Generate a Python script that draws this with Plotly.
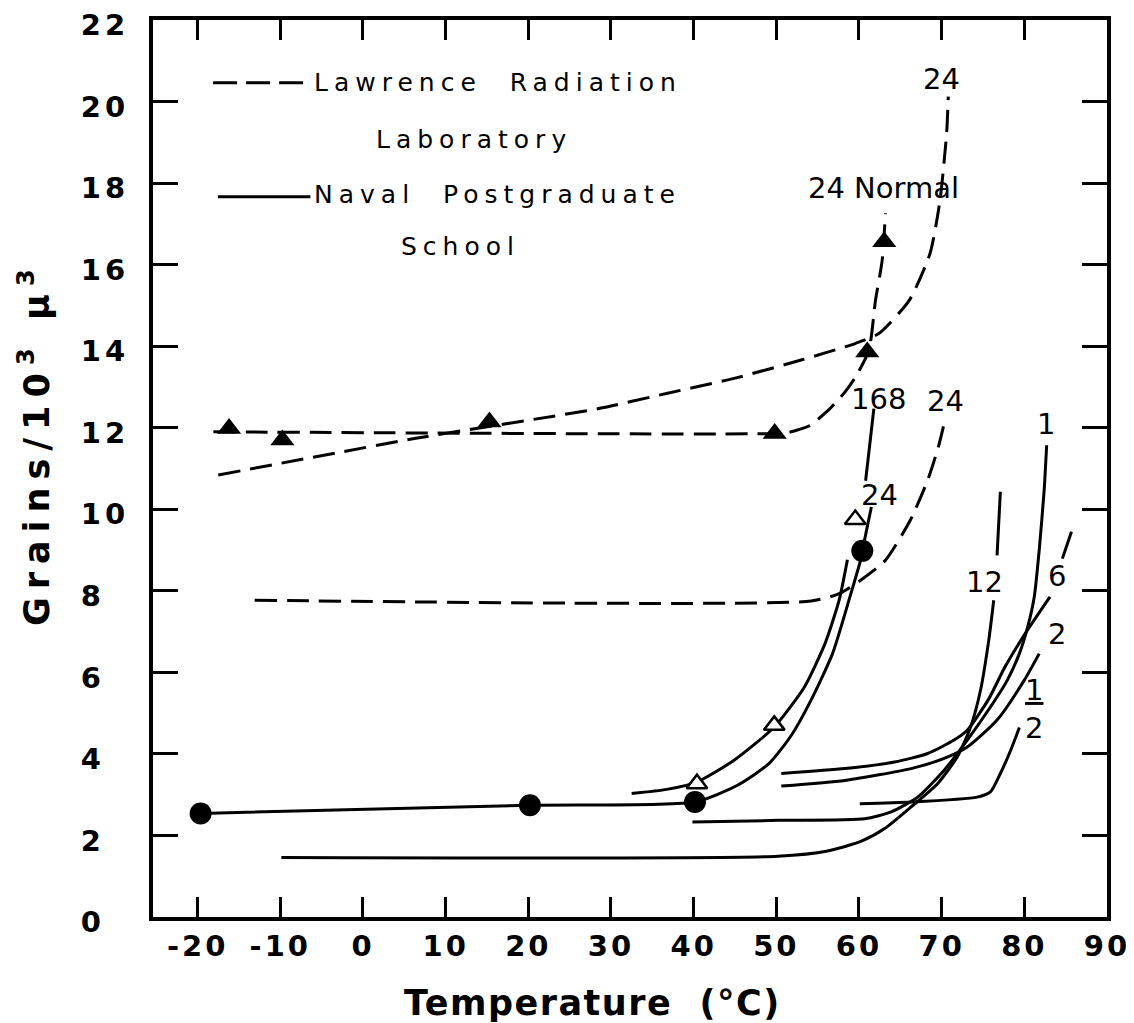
import plotly.graph_objects as go

# ---------------- data ----------------
# Lawrence Radiation Laboratory (dashed)
lrl_normal_x = [-18.1, 49.8, 51.8, 54.0, 56.3, 58.2, 59.6, 61.2, 62.0, 62.8, 63.2]
lrl_normal_y = [11.9, 11.86, 11.9, 12.05, 12.43, 12.85, 13.25, 13.9, 15.13, 16.1, 17.26]

lrl_24a_x = [-17.5, 6.4, 28.5, 36.7, 44.9, 53.0, 59.6, 62.4, 66.1, 68.6, 69.8, 70.6, 70.8]
lrl_24a_y = [10.84, 11.74, 12.47, 12.84, 13.21, 13.66, 14.07, 14.31, 15.13, 16.28, 17.58, 19.22, 20.12]

lrl_24b_x = [-13.1, 54.2, 57.6, 60.2, 63.2, 66.2, 68.3, 69.6, 70.4]
lrl_24b_y = [7.77, 7.75, 7.93, 8.26, 8.75, 9.73, 10.71, 11.53, 12.19]

lrl_pts_x = [-16.2, -9.75, 15.3, 49.8, 61.0, 63.05]
lrl_pts_y = [11.98, 11.70, 12.14, 11.86, 13.86, 16.56]

# Naval Postgraduate School (solid)
nps_24_x = [-19.64, 20.2, 40.16, 45.3, 49.1, 51.7, 54.2, 56.8, 58.9, 60.2, 60.4, 61.5]
nps_24_y = [2.54, 2.74, 2.82, 3.23, 3.76, 4.42, 5.32, 6.46, 7.85, 8.76, 8.98, 10.06]
nps_24_pts_x = [-19.64, 20.2, 40.16, 60.4]
nps_24_pts_y = [2.54, 2.74, 2.82, 8.98]

nps_168_x = [32.5, 36.75, 40.4, 44.85, 49.75, 53.4, 55.9, 57.6, 58.6, None, 60.8, 61.8]
nps_168_y = [3.03, 3.13, 3.31, 3.84, 4.66, 5.64, 6.71, 7.77, 8.76, None, 10.7, 12.47]
nps_168_pts_x = [40.4, 49.75, 59.55]
nps_168_pts_y = [3.27, 4.70, 9.75]

nps_12_x = [-9.87, 50.2, 56.2, 60.3, 63.1, 66.3, 69.5, 71.9, 73.5, 74.7, 75.7, 76.3, None, 76.7, 77.1]
nps_12_y = [1.46, 1.49, 1.62, 1.86, 2.17, 2.70, 3.27, 3.93, 4.66, 5.56, 6.79, 7.77, None, 8.87, 10.43]

nps_1_x = [39.85, 50.2, 60.7, 63.9, 67.1, 70.3, 73.1, 75.9, 77.95, 79.4, 80.4, 81.2, 81.8, 82.4, 82.7]
nps_1_y = [2.33, 2.37, 2.41, 2.58, 2.94, 3.60, 4.34, 5.15, 5.81, 6.46, 7.11, 7.85, 9.0, 10.47, 11.57]

nps_6_x = [50.6, 58.3, 64.3, 68.3, 71.5, 73.1, 75.7, 77.65, 80.1, 83.1, None, 84.6, 85.7]
nps_6_y = [3.52, 3.64, 3.80, 4.01, 4.34, 4.58, 5.35, 6.13, 6.95, 7.85, None, 8.79, 9.45]

nps_2_x = [50.6, 58.3, 66.3, 70.3, 73.1, 76.7, 80.0, 81.8]
nps_2_y = [3.21, 3.35, 3.64, 3.89, 4.17, 4.83, 5.81, 6.46]

nps_half_x = [60.1, 66.3, 74.3, 75.9, 77.1, 78.35, 79.4]
nps_half_y = [2.78, 2.82, 2.94, 3.07, 3.52, 4.09, 4.65]

# curve labels
label_text = ["24", "24 Normal", "168", "24", "24", "12", "6", "2", "1"]
label_x = [70.0, 63.0, 62.4, 70.5, 62.5, 75.2, 84.0, 84.0, 82.6]
label_y = [20.55, 17.87, 12.70, 12.65, 10.35, 8.22, 8.36, 6.94, 12.09]

x_ticks = [-20, -10, 0, 10, 20, 30, 40, 50, 60, 70, 80, 90]
y_ticks = [0, 2, 4, 6, 8, 10, 12, 14, 16, 18, 20, 22]

# ---------------- figure ----------------
BLACK = "#000000"
DASH = "22px,10px"
LW = 3

fig = go.Figure()

def line(x, y, dash=None):
    fig.add_trace(go.Scatter(
        x=x, y=y, mode="lines",
        line=dict(color=BLACK, width=LW, dash=dash, shape="spline", smoothing=0.6),
        connectgaps=False, showlegend=False, hoverinfo="skip"))

for xs, ys in [(lrl_normal_x, lrl_normal_y), (lrl_24a_x, lrl_24a_y), (lrl_24b_x, lrl_24b_y)]:
    line(xs, ys, DASH)

for xs, ys in [(nps_24_x, nps_24_y), (nps_168_x, nps_168_y), (nps_12_x, nps_12_y),
               (nps_1_x, nps_1_y), (nps_6_x, nps_6_y), (nps_2_x, nps_2_y),
               (nps_half_x, nps_half_y)]:
    line(xs, ys)

fig.add_trace(go.Scatter(x=lrl_pts_x, y=lrl_pts_y, mode="markers",
                         marker=dict(symbol="triangle-up", size=21, color=BLACK),
                         showlegend=False, hoverinfo="skip"))
fig.add_trace(go.Scatter(x=nps_24_pts_x, y=nps_24_pts_y, mode="markers",
                         marker=dict(symbol="circle", size=22, color=BLACK),
                         showlegend=False, hoverinfo="skip"))
fig.add_trace(go.Scatter(x=nps_168_pts_x, y=nps_168_pts_y, mode="markers",
                         marker=dict(symbol="triangle-up", size=18, color="white",
                                     line=dict(color=BLACK, width=2.5)),
                         showlegend=False, hoverinfo="skip"))

LABEL_FONT = dict(family="DejaVu Sans", size=29, color=BLACK)
for t, x, y in zip(label_text, label_x, label_y):
    fig.add_annotation(x=x, y=y, xref="x", yref="y", text=t, showarrow=False,
                       font=LABEL_FONT, xanchor="center", yanchor="middle")

# fraction label 1/2
fig.add_annotation(x=81.2, y=5.09, xref="x", yref="y",
                   text="<span style='text-decoration:underline'>1</span><br>2",
                   showarrow=False, font=dict(family="DejaVu Sans", size=29, color=BLACK),
                   xanchor="center", yanchor="middle")

# legend (drawn as text block)
LEG_FONT = dict(family="DejaVu Sans", size=25, color=BLACK)
def sp(t, ls=6):
    return f"<span style='letter-spacing:{ls}px'>{t}</span>"

fig.add_shape(type="line", xref="paper", yref="paper", x0=0.063, x1=0.161, y0=0.930, y1=0.930,
              line=dict(color=BLACK, width=LW, dash="24px,9px"))
fig.add_annotation(xref="paper", yref="paper", x=0.167, y=0.930, text=sp("Lawrence&nbsp; Radiation"),
                   showarrow=False, font=LEG_FONT, xanchor="left", yanchor="middle")
fig.add_annotation(xref="paper", yref="paper", x=0.337, y=0.867, text=sp("Laboratory"),
                   showarrow=False, font=LEG_FONT, xanchor="center", yanchor="middle")
fig.add_shape(type="line", xref="paper", yref="paper", x0=0.068, x1=0.165, y0=0.803, y1=0.803,
              line=dict(color=BLACK, width=LW))
fig.add_annotation(xref="paper", yref="paper", x=0.167, y=0.805, text=sp("Naval&nbsp; Postgraduate"),
                   showarrow=False, font=LEG_FONT, xanchor="left", yanchor="middle")
fig.add_annotation(xref="paper", yref="paper", x=0.322, y=0.748, text=sp("School"),
                   showarrow=False, font=LEG_FONT, xanchor="center", yanchor="middle")

# axis titles
TITLE_FONT = dict(family="DejaVu Sans", size=35, color=BLACK, weight="bold")
fig.add_annotation(xref="paper", yref="paper", x=0.461, y=-0.096,
                   text=sp("Temperature&nbsp; (°C)", 1.5), showarrow=False, font=TITLE_FONT,
                   xanchor="center", yanchor="middle")
fig.add_annotation(xref="paper", yref="paper", x=-0.124, y=0.528,
                   text=sp("Grains/10<sup>3</sup> μ<sup>3</sup>", 8), showarrow=False,
                   font=TITLE_FONT, textangle=-90, xanchor="center", yanchor="middle")

TICK_FONT = dict(family="DejaVu Sans", size=29, color=BLACK, weight="bold")
x_ticktext = [sp(str(v), 3) for v in x_ticks]
y_ticktext = [sp(str(v) if v >= 10 else str(v) + "\u2007", 4) for v in y_ticks]

fig.update_xaxes(range=[-25.4, 90], tickmode="array", tickvals=x_ticks, ticktext=x_ticktext,
                 ticks="inside", ticklen=20, tickwidth=3, tickcolor=BLACK,
                 showline=True, linewidth=4, linecolor=BLACK, mirror="ticks",
                 showgrid=False, zeroline=False, tickfont=TICK_FONT, automargin=False,
                 ticklabeloverflow="allow")
fig.update_yaxes(range=[0, 22], tickmode="array", tickvals=y_ticks, ticktext=y_ticktext,
                 ticks="inside", ticklen=25, tickwidth=3, tickcolor=BLACK,
                 showline=True, linewidth=4, linecolor=BLACK, mirror="ticks",
                 showgrid=False, zeroline=False, tickfont=TICK_FONT, ticklabelstandoff=14,
                 ticklabelshift=5, automargin=False, ticklabeloverflow="allow")

# the page body adds an 8px margin; size the figure so the plot area lands where the reference has it
fig.update_layout(width=1126, height=1015, margin=dict(l=145, r=27, t=12, b=106, autoexpand=False),
                  plot_bgcolor="white", paper_bgcolor="white", showlegend=False)

fig.write_html("out.html")
